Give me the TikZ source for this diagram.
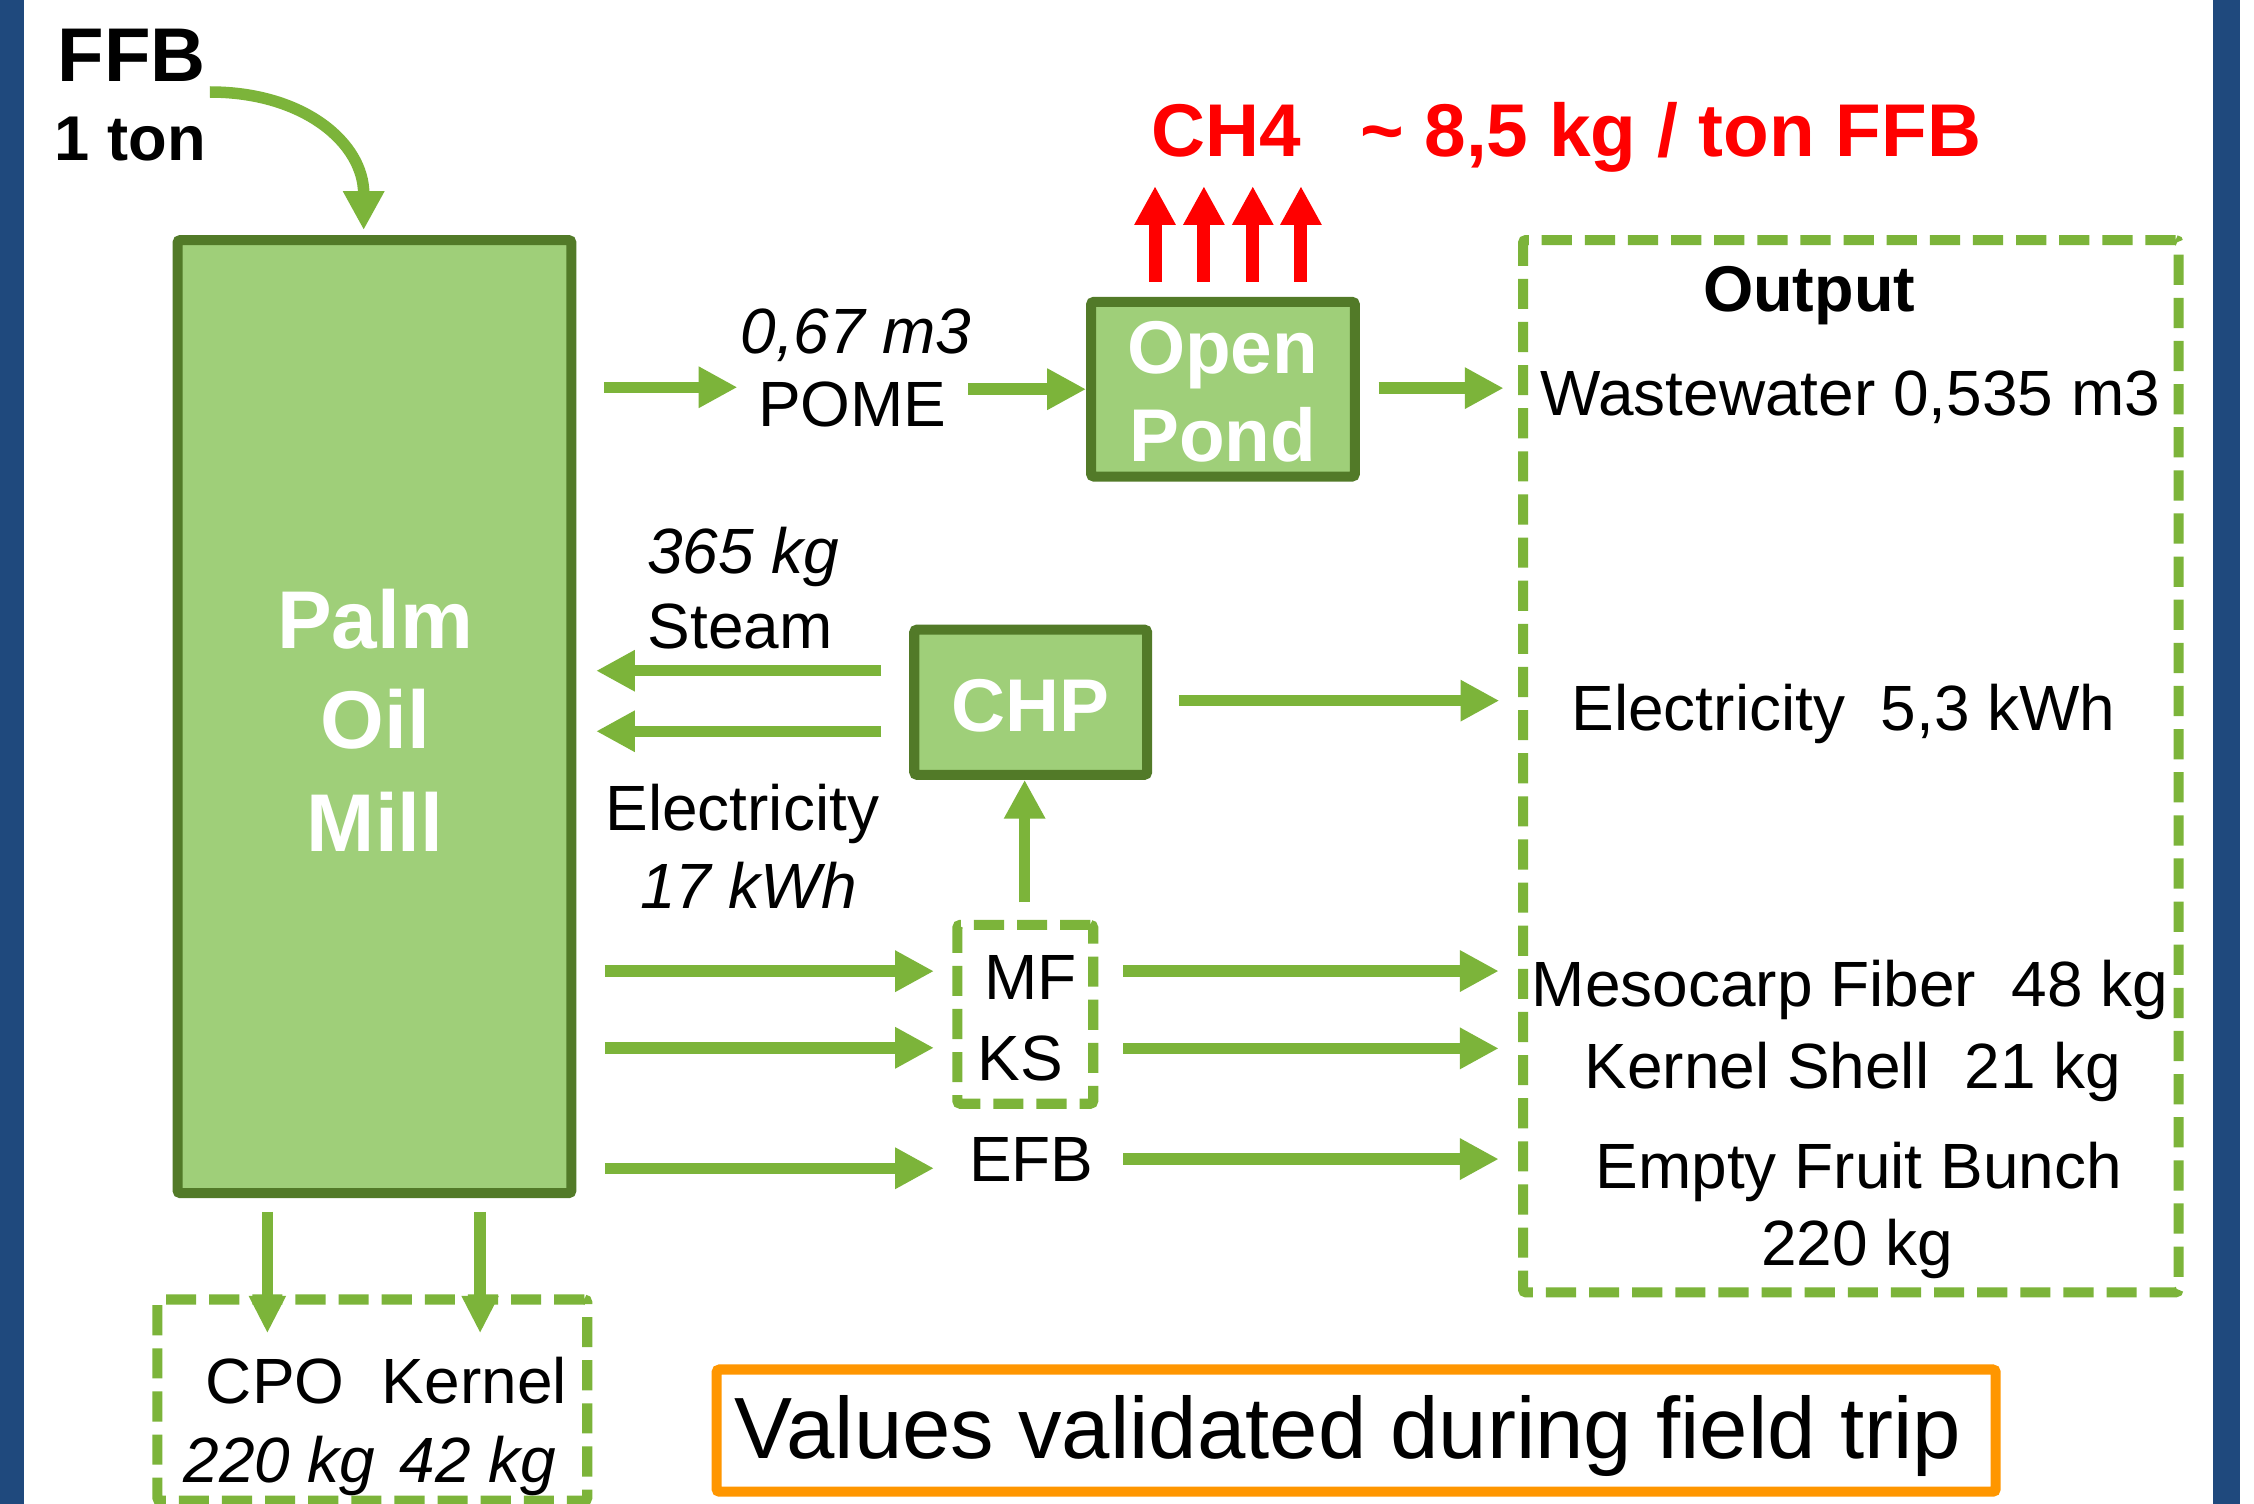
\documentclass[tikz,border=0pt]{standalone}
\usepackage{fontspec}
\setmainfont{Liberation Sans}
\usetikzlibrary{arrows.meta}
\definecolor{ggreen}{RGB}{124,180,58}
\definecolor{gfill}{RGB}{159,207,121}
\definecolor{gdark}{RGB}{82,122,40}
\definecolor{bblue}{RGB}{31,73,125}
\definecolor{oorange}{RGB}{255,150,0}
\definecolor{rred}{RGB}{255,0,0}
\newcommand\fsz[1]{\fontsize{#1}{#1}\selectfont}
\tikzset{
 flow/.style={draw=ggreen, line width=8pt, -{Triangle[length=27pt,width=27pt]}},
 flowdown/.style={draw=ggreen, line width=8pt, -{Triangle[length=26pt,width=24pt]}},
 gas/.style={draw=rred, line width=9pt, -{Triangle[length=27pt,width=27pt]}},
 unit/.style={draw=gdark, fill=gfill, line width=7pt, rounded corners=2pt, inner sep=0pt},
 group/.style={draw=ggreen, line width=7pt, dash pattern=on 21pt off 9pt, rounded corners=2pt, inner sep=0pt},
 note/.style={draw=oorange, line width=7pt, rounded corners=2pt, inner sep=0pt},
 lbl/.style={inner sep=0pt, anchor=base, font=\fsz{44.5}},
 lbli/.style={lbl, font=\fsz{44.5}\itshape},
 lblw/.style={lbl, anchor=base west},
 boxtxt/.style={lbl, text=white, font=\fsz{52}\bfseries},
}
\begin{document}
\begin{tikzpicture}[x=1pt,y=-1pt]
\useasboundingbox (0,0) rectangle (1568,1046);
\fill[white] (0,0) rectangle (1568,1046);
\fill[bblue] (0,0) rectangle (17,1046);
\fill[bblue] (1539.5,0) rectangle (1558,1046);

% boxes
\node[unit, minimum width=274pt, minimum height=663pt] (mill) at (260.5,498.5) {};
\node[unit, minimum width=183.5pt, minimum height=121.5pt] (pond) at (850.75,270.75) {};
\node[unit, minimum width=162pt, minimum height=101pt] (chp) at (717,488.5) {};
\node[group, minimum width=94.5pt, minimum height=124.4pt] (mfks) at (713.25,705.6) {};
\node[group, minimum width=456pt, minimum height=732pt] (out) at (1287.5,533) {};
\node[group, minimum width=299pt, minimum height=140pt] (prod) at (259,974) {};
\node[note, minimum width=889.8pt, minimum height=85pt] (val) at (943.4,995.2) {};

% box texts
\node[boxtxt, font=\fsz{57}\bfseries] (palm) at (261,451) {Palm};
\node[boxtxt, font=\fsz{57}\bfseries] (oil) at (261,521) {Oil};
\node[boxtxt, font=\fsz{57}\bfseries] (mill3) at (261,592) {Mill};
\node[boxtxt] (open) at (850.5,259.6) {Open};
\node[boxtxt] (pond2) at (850.5,321) {Pond};
\node[boxtxt] (chpT) at (717,509) {CHP};

% top-left
\node[lblw, font=\fsz{53}\bfseries] (ffb) at (40,56.8) {FFB};
\node[lblw, font=\fsz{44}\bfseries] (ton) at (38,112) {1 ton};
\node[lblw, text=rred, font=\fsz{52}\bfseries] (ch4) at (801,109) {CH4};
\node[lblw, text=rred, font=\fsz{52}\bfseries] (ch4v) at (946,109) {\char`~\ 8,5 kg / ton FFB};

% labels
\node[lbli] (pomeV) at (595.5,246) {0,67 m3};
\node[lbl] (pome) at (593,297) {POME};
\node[lbli] (steamV) at (517,399) {365 kg};
\node[lbl] (steam) at (515,451) {Steam};
\node[lbl] (elec) at (516.3,577.7) {Electricity};
\node[lbli] (elecV) at (520.7,632) {17 kWh};
\node[lbl] (mf) at (716.8,695.6) {MF};
\node[lbl] (ks) at (710,751.5) {KS};
\node[lbl] (efb) at (717.5,822) {EFB};

% output texts
\node[lbl, font=\fsz{45}\bfseries] (outT) at (1258.5,217) {Output};
\node[lbl] (ww) at (1287,289) {Wastewater 0,535 m3};
\node[lblw] (elout) at (1093,508) {Electricity\ \ 5,3 kWh};
\node[lbl] (mfo) at (1287,700) {Mesocarp Fiber\ \ 48 kg};
\node[lbl] (kso) at (1289,757) {Kernel Shell\ \ 21 kg};
\node[lbl] (efbo) at (1293,826.6) {Empty Fruit Bunch};
\node[lbl] (efbo2) at (1292,880) {220 kg};

% products
\node[lbl] (cpo) at (191.5,976) {CPO};
\node[lbl] (kern) at (330,976) {Kernel};
\node[lbli] (cpoV) at (194.5,1031) {220 kg};
\node[lbli] (kernV) at (332.5,1031) {42 kg};

\node[lblw, font=\fsz{60.5}] (valT) at (511,1014.5) {Values validated during field trip};

% coordinates
\coordinate (ffbA) at (146,64);
\coordinate (ffbB) at (253,160);
\coordinate (pomeA) at (420,269.4);
\coordinate (pomeB) at (513,269.4);
\coordinate (pomeC) at (673.6,270.75);
\coordinate (wwA) at (959,270);
\coordinate (wwB) at (1046,270);
\coordinate (stA) at (613,466.6);
\coordinate (stB) at (414.7,466.6);
\coordinate (elA) at (613,508.7);
\coordinate (elB) at (414.7,508.7);
\coordinate (eoA) at (820,487.4);
\coordinate (eoB) at (1043,487.4);
\coordinate (mfup) at (712.8,627.7);
\coordinate (i1A) at (420.8,675.6);
\coordinate (i1B) at (649.7,675.6);
\coordinate (i2A) at (420.8,728.9);
\coordinate (i2B) at (649.7,728.9);
\coordinate (i3A) at (420.8,812.7);
\coordinate (i3B) at (649.7,812.7);
\coordinate (o1A) at (781.5,675.5);
\coordinate (o1B) at (1042.6,675.5);
\coordinate (o2A) at (781.5,729.3);
\coordinate (o2B) at (1042.6,729.3);
\coordinate (o3A) at (781.5,806.3);
\coordinate (o3B) at (1042.6,806.3);
\coordinate (d1A) at (186,843);
\coordinate (d1B) at (186,927.5);
\coordinate (d2A) at (334,843);
\coordinate (d2B) at (334,927.5);

% arrows
\draw[flow] (ffbA) .. controls (212,64) and (253,100) .. (ffbB);
\draw[flow] (pomeA) -- (pomeB);
\draw[flow] (pomeC) -- (pond.west);
\draw[flow] (wwA) -- (wwB);
\draw[flow] (stA) -- (stB);
\draw[flow] (elA) -- (elB);
\draw[flow] (eoA) -- (eoB);
\draw[flow] (mfup) -- (mfup |- chp.south);
\draw[flow] (i1A) -- (i1B);
\draw[flow] (i2A) -- (i2B);
\draw[flow] (i3A) -- (i3B);
\draw[flow] (o1A) -- (o1B);
\draw[flow] (o2A) -- (o2B);
\draw[flow] (o3A) -- (o3B);
\draw[flowdown] (d1A) -- (d1B);
\draw[flowdown] (d2A) -- (d2B);

% methane arrows
\foreach \x [count=\i] in {803.5,837.5,871.5,905}{
  \coordinate (g\i A) at (\x,196);
  \coordinate (g\i B) at (\x,129.5);
  \draw[gas] (g\i A) -- (g\i B);
}
\end{tikzpicture}
\end{document}
